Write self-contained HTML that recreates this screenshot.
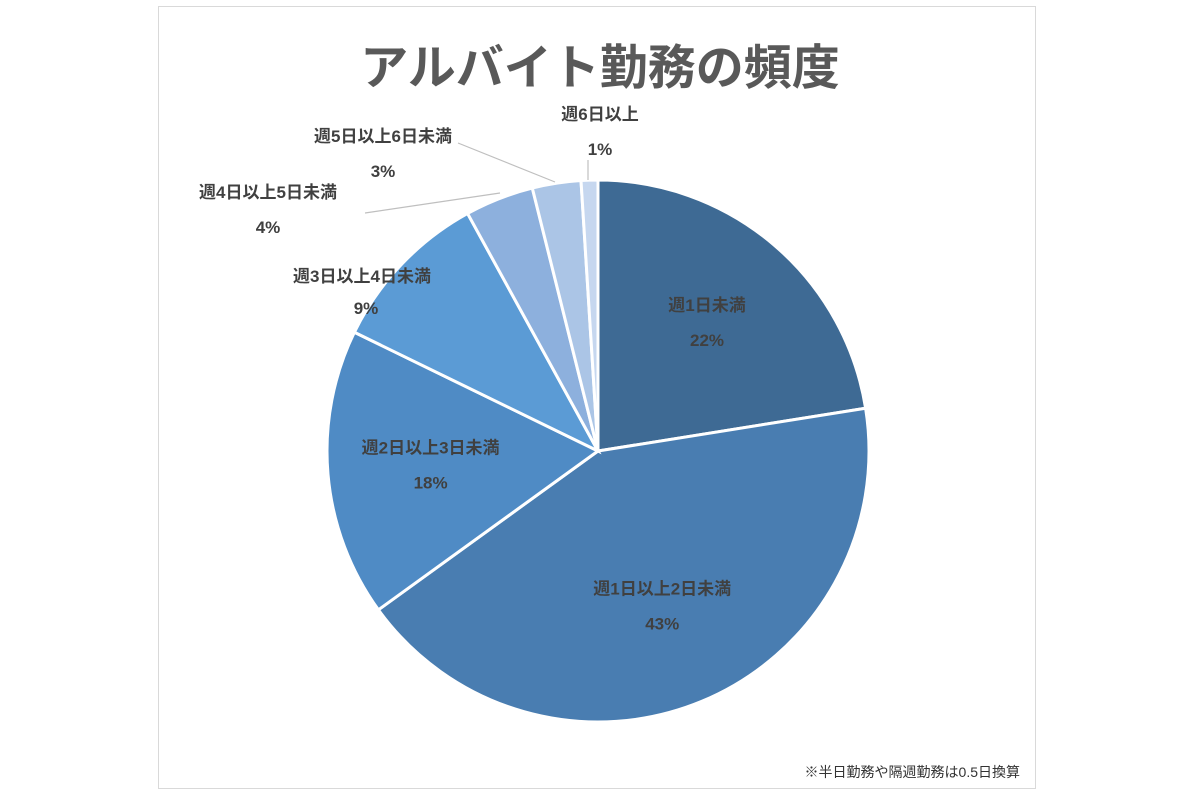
<!DOCTYPE html>
<html><head><meta charset="utf-8"><style>
html,body{margin:0;padding:0;background:#fff;}
body{width:1200px;height:800px;position:relative;overflow:hidden;font-family:"Liberation Sans","Noto Sans CJK JP",sans-serif;}
#frame{position:absolute;left:158px;top:6px;width:878px;height:783px;border:1px solid #d9d9d9;box-sizing:border-box;}
</style></head><body>
<div id="frame"></div>
<svg id="chart" width="1200" height="800" style="position:absolute;left:0;top:0">
<text x="600" y="84" text-anchor="middle" font-size="48" font-weight="bold" fill="#595959" font-family="Liberation Sans, Noto Sans CJK JP, sans-serif">アルバイト勤務の頻度</text>
<text x="1020" y="777" text-anchor="end" font-size="14" fill="#333" font-family="Liberation Sans, Noto Sans CJK JP, sans-serif">※半日勤務や隔週勤務は0.5日換算</text>
<g id="slices"></g><g id="labels"></g>
</svg>
<script>
const categories=["週1日未満","週1日以上2日未満","週2日以上3日未満","週3日以上4日未満","週4日以上5日未満","週5日以上6日未満","週6日以上"];
const values=[22.5,42.6,17.2,9.8,4.1,2.9,1.0];
const pctLabels=["22%","43%","18%","9%","4%","3%","1%"];
const colors=["#3e6a94","#497db1","#4f8bc5","#5b9bd5","#8db0dd","#abc5e6","#c6d7ef"];
const cx=598,cy=451,r=271;
const ns="http://www.w3.org/2000/svg";
const total=values.reduce((a,b)=>a+b,0);
function pt(a,rr){return [cx+rr*Math.sin(a),cy-rr*Math.cos(a)];}
const gs=document.getElementById('slices'),gl=document.getElementById('labels');
// label positions: inside for big slices, outside (with leader) for small
const labelPos=[[0.62,null],[0.62,null],[0.62,null],[null,[316,285]],[null,[268,198]],[null,[383,142]],[null,[600,120]]];
const leaders=[null,null,null,null,[[365,213],[500,193]],[[458,143],[555,182]],[[588,160],[588,180]]];
let acc=0;
values.forEach((v,i)=>{
  const a0=acc/total*2*Math.PI;acc+=v;const a1=acc/total*2*Math.PI;
  const p0=pt(a0,r),p1=pt(a1,r);
  const path=document.createElementNS(ns,'path');
  path.setAttribute('d',`M${cx},${cy}L${p0[0]},${p0[1]}A${r},${r} 0 ${a1-a0>Math.PI?1:0} 1 ${p1[0]},${p1[1]}Z`);
  path.setAttribute('fill',colors[i]);path.setAttribute('stroke','#fff');path.setAttribute('stroke-width','3');
  
  
  gs.appendChild(path);
  let lx,ly;
  if(labelPos[i][0]){const m=pt((a0+a1)/2,r*labelPos[i][0]);lx=m[0];ly=m[1]-12;}
  else{lx=labelPos[i][1][0];ly=labelPos[i][1][1];}
  if(i===3){lx=362;ly=282;}
  const t1=document.createElementNS(ns,'text');
  t1.setAttribute('x',lx);t1.setAttribute('y',ly);t1.setAttribute('text-anchor','middle');
  t1.setAttribute('font-size','17');t1.setAttribute('font-weight','bold');t1.setAttribute('fill','#404040');
  t1.textContent=categories[i];
  
  
  gl.appendChild(t1);
  const t2=document.createElementNS(ns,'text');
  t2.setAttribute('x',i===3?366:lx);t2.setAttribute('y',ly+(i===3?32:35));t2.setAttribute('text-anchor','middle');
  t2.setAttribute('font-size','17');t2.setAttribute('font-weight','bold');t2.setAttribute('fill','#404040');
  t2.textContent=pctLabels[i];
  
  
  gl.appendChild(t2);
  if(leaders[i]){
    const l=document.createElementNS(ns,'line');
    l.setAttribute('x1',leaders[i][0][0]);l.setAttribute('y1',leaders[i][0][1]);
    l.setAttribute('x2',leaders[i][1][0]);l.setAttribute('y2',leaders[i][1][1]);
    l.setAttribute('stroke','#bfbfbf');l.setAttribute('stroke-width','1.2');
    
    
    gl.appendChild(l);
  }
});
</script>
</body></html>
